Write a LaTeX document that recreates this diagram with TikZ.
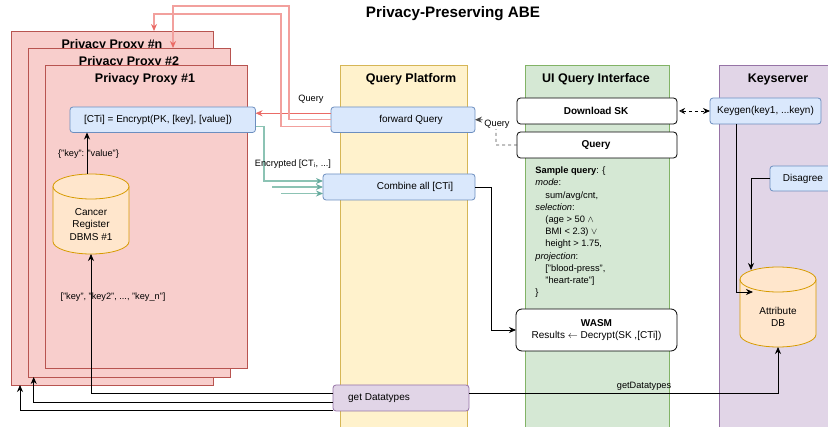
\documentclass[tikz,border=0pt]{standalone}
\usepackage{fontspec}
\setmainfont{Liberation Sans}
\usetikzlibrary{arrows.meta}
\definecolor{cRed}{RGB}{248,206,204}
\definecolor{cRedLine}{RGB}{184,84,80}
\definecolor{cArrowRed}{RGB}{234,107,102}
\definecolor{cPaleRed}{RGB}{242,160,157}
\definecolor{cTeal}{RGB}{103,171,159}
\definecolor{cPaleTeal}{RGB}{140,195,180}
\definecolor{cYellow}{RGB}{255,242,204}
\definecolor{cYellowLine}{RGB}{214,182,86}
\definecolor{cGreen}{RGB}{213,232,212}
\definecolor{cGreenLine}{RGB}{130,179,102}
\definecolor{cPurple}{RGB}{225,213,231}
\definecolor{cPurpleLine}{RGB}{150,115,166}
\definecolor{cBlue}{RGB}{218,232,252}
\definecolor{cBlueLine}{RGB}{108,142,191}
\definecolor{cOrange}{RGB}{255,230,204}
\definecolor{cOrangeLine}{RGB}{215,155,0}
\tikzset{
        panel/.style={draw, anchor=north west, outer sep=0pt},
        heading/.style={font=\fontsize{12.5}{14}\selectfont\bfseries, inner sep=0pt, text height=9pt, text depth=2.5pt},
        txt/.style={font=\fontsize{10}{12.4}\selectfont, inner sep=0pt, align=center},
        boldtxt/.style={font=\fontsize{10}{12.4}\selectfont\bfseries, inner sep=0pt, align=center},
        small/.style={font=\fontsize{9.2}{12}\selectfont, inner sep=0pt},
        bluebox/.style={draw=cBlueLine, fill=cBlue, rounded corners=3pt, anchor=north west, outer sep=0pt},
        whitebox/.style={draw=black, fill=white, rounded corners=3.5pt, anchor=north west, outer sep=0pt},
        dbase/.style={minimum width=76pt, minimum height=80pt, anchor=north, outer sep=0pt, inner sep=0pt},
        dbline/.style={draw=cOrangeLine, fill=cOrange},
        redline/.style={draw=cPaleRed, line width=1.1pt, -{Stealth[length=7pt,width=6pt,color=cArrowRed]}},
        tealline/.style={draw=cPaleTeal, line width=1.1pt, -{Stealth[length=7pt,width=6pt,color=cTeal]}},
}
% cylinder body on a named node
\newcommand{\dbshape}[1]{
        \draw[dbline] (#1.north west) ++(0,12.5) arc[start angle=180, end angle=0, x radius=38pt, y radius=12.5pt]
                -- ++(0,55) arc[start angle=0, end angle=-180, x radius=38pt, y radius=12.5pt] -- cycle;
        \draw[draw=cOrangeLine] (#1.north west) ++(0,12.5) arc[start angle=180, end angle=360, x radius=38pt, y radius=12.5pt];
}

\begin{document}
\begin{tikzpicture}[x=1pt, y=-1pt, >={Stealth[length=7pt,width=6pt]}, line width=0.8pt]
        \useasboundingbox (0,0) rectangle (828,427);

        \node[heading, font=\fontsize{15.2}{16}\selectfont\bfseries] (title) at (453, 14) {Privacy-Preserving ABE};

        \node[panel, draw=cYellowLine, fill=cYellow, minimum width=127pt, minimum height=380pt] (platform) at (340, 65) {};
        \node[panel, draw=cGreenLine, fill=cGreen, minimum width=144pt, minimum height=380pt] (ui) at (525, 65) {};
        \node[panel, draw=cPurpleLine, fill=cPurple, minimum width=144pt, minimum height=380pt] (keyserver) at (719, 65) {};
        \node[heading] (platformT) at (411, 79.5) {Query Platform};
        \node[heading] (uiT) at (596, 79.5) {UI Query Interface};
        \node[heading] (keyserverT) at (778, 79.5) {Keyserver};

        \node[panel, draw=cRedLine, fill=cRed, minimum width=202pt, minimum height=354pt] (proxyn) at (11, 31) {};
        \node[heading] (proxynT) at (112, 45.3) {Privacy Proxy \#n};
        \node[panel, draw=cRedLine, fill=cRed, minimum width=202pt, minimum height=329pt] (proxyb) at (28, 48) {};
        \node[heading] (proxybT) at (129, 62.7) {Privacy Proxy \#2};
        \node[panel, draw=cRedLine, fill=cRed, minimum width=202pt, minimum height=303pt] (proxya) at (45, 65) {};
        \node[heading] (proxyaT) at (145, 79.5) {Privacy Proxy \#1};

        \node[bluebox, minimum width=185.5pt, minimum height=25.5pt] (encrypt) at (70, 107) {};
        \node[txt] (encryptT) at (158, 119.5) {[CTi] = Encrypt(PK, [key], [value])};
        \node[dbase] (cancer) at (91, 174) {};
        \dbshape{cancer}
        \node[txt] (cancerT) at (91, 224.5) {Cancer\\Register\\DBMS \#1};

        \node[bluebox, minimum width=144pt, minimum height=25.5pt] (forward) at (331, 107) {};
        \node[txt] (forwardT) at (411, 119.5) {forward Query};
        \node[bluebox, minimum width=152pt, minimum height=26pt] (combine) at (323, 174) {};
        \node[txt] (combineT) at (415, 187) {Combine all [CTi]};
        \node[bluebox, draw=cPurpleLine, fill=cPurple, minimum width=136pt, minimum height=26pt] (datatypes) at (333, 385) {};
        \node[txt] (datatypesT) at (379, 398) {get Datatypes};

        \node[whitebox, minimum width=160pt, minimum height=26pt] (download) at (517, 98) {};
        \node[boldtxt] (downloadT) at (596, 111) {Download SK};
        \node[whitebox, minimum width=160pt, minimum height=26pt] (query) at (517, 132) {};
        \node[boldtxt] (queryT) at (596, 145) {Query};
        \node[small, anchor=north west, align=left, font=\fontsize{9.3}{12.2}\selectfont] (sample) at (535, 166.5) {\textbf{Sample query}: \{\\
                \textit{mode}:\\
                \hspace*{10pt}sum/avg/cnt,\\
                \textit{selection}:\\
                \hspace*{10pt}(age > 50 $\wedge$\\
                \hspace*{10pt}BMI < 2.3) $\vee$\\
                \hspace*{10pt}height > 1.75,\\
                \textit{projection}:\\
                \hspace*{10pt}["blood-press",\\
                \hspace*{10pt}"heart-rate"]\\
                \}};
        \node[whitebox, minimum width=161pt, minimum height=42pt, rounded corners=6pt] (wasm) at (516, 309) {};
        \node[txt] (wasmT) at (596.5, 330) {\textbf{WASM}\\Results $\leftarrow$ Decrypt(SK ,[CTi])};

        \node[bluebox, minimum width=111pt, minimum height=26pt] (keygen) at (710, 98) {};
        \node[txt] (keygenT) at (765.5, 111) {Keygen(key1, ...keyn)};
        \node[bluebox, minimum width=80pt, minimum height=25pt] (disagree) at (770, 166) {};
        \node[txt] (disagreeT) at (803, 178.5) {Disagree};
        \node[dbase] (attr) at (778, 267) {};
        \dbshape{attr}
        \node[txt] (attrT) at (778, 317) {Attribute\\DB};

        % query fan out
        \draw[->, cArrowRed] ([yshift=6.5pt]forward.west) -- ([yshift=6.5pt]encrypt.east);
        \draw[redline] (forward.west) -| (289, 6) -| ([xshift=-57pt]proxyb.north east);
        \draw[redline] ([yshift=-6.5pt]forward.west) -| (281, 14) -| ([xshift=-59pt]proxyn.north east);
        \node[small] (queryL) at (311, 99) {Query};

        \coordinate (stubb) at (272, 187);
        \coordinate (stubc) at (281, 193.5);
        \draw[tealline] ([yshift=-6.5pt]encrypt.east) -| (264, 181) -- ([yshift=6pt]combine.west);
        \draw[tealline] (stubb) -- (combine.west);
        \draw[tealline] (stubc) -- ([yshift=-6.5pt]combine.west);
        \node[small] (encL) at (293, 164) {Encrypted [CT\textsubscript{i}, ...]};

        \draw[->, dashed, black!70] (query.west) -| (496, 119.5) -- (forward.east);
        \node[small, fill=white, inner sep=1pt] (dashL) at (497, 124) {Query};
        \draw[{Stealth[length=6pt,width=6pt,open]}->, dashed] ([xshift=2pt]download.east) -- (keygen.west);

        \draw[->] ([xshift=-4pt]cancer.north) -- ([xshift=17pt]encrypt.south west);
        \node[small] (kvL) at (88.5, 154) {\{"key": "value"\}};

        \draw[->] (combine.east) -| (491.7, 330) -- (wasm.west);

        \coordinate (attrL) at (753, 292);
        \coordinate (attrTop) at (751, 270);
        \draw[->] ([xshift=26pt]keygen.south west) |- (attrL);
        \draw[->] (disagree.west) -| (attrTop);

        % get Datatypes
        \draw[->] ([yshift=4.5pt]datatypes.west) -| (cancer.south);
        \draw[->] ([yshift=-4pt]datatypes.west) -| ([xshift=5.7pt]proxyb.south west);
        \draw[->] ([yshift=-12.5pt]datatypes.west) -| ([xshift=9pt]proxyn.south west);
        \draw[->] ([yshift=4.5pt]datatypes.east) -| (attr.south);
        \node[small] (keysL) at (113, 297) {["key", "key2", ..., "key\_n"]};
        \node[small] (getL) at (644, 386) {getDatatypes};
\end{tikzpicture}
\end{document}
